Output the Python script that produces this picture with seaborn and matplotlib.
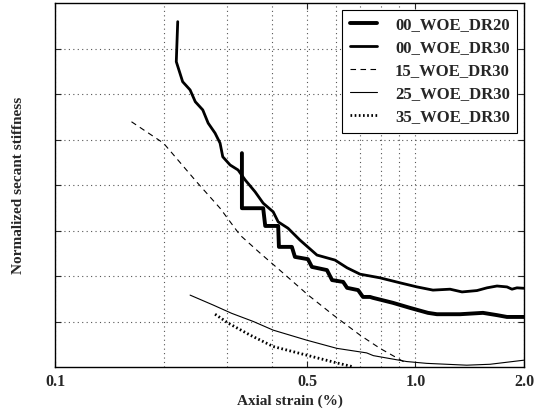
import matplotlib
matplotlib.use("Agg")
import matplotlib.pyplot as plt
import matplotlib.ticker as mticker
import seaborn as sns
import pandas as pd

sns.set_theme(style="ticks")
plt.rcParams["font.family"] = ["Liberation Serif", "DejaVu Serif"]
plt.rcParams["font.weight"] = "bold"

# ---- data ----
dr20_x = [0.330, 0.330, 0.378, 0.383, 0.416, 0.418, 0.454, 0.463, 0.503, 0.516,
          0.568, 0.587, 0.630, 0.646, 0.693, 0.715, 0.748, 0.762, 0.866, 0.965,
          1.083, 1.147, 1.329, 1.539, 1.683, 1.794, 2.0]
dr20_y = [4.70, 3.49, 3.49, 3.10, 3.10, 2.64, 2.64, 2.42, 2.37, 2.20,
          2.13, 1.91, 1.87, 1.74, 1.69, 1.54, 1.54, 1.52, 1.41, 1.30,
          1.19, 1.16, 1.16, 1.19, 1.14, 1.10, 1.10]

dr30_x = [0.219, 0.217, 0.226, 0.237, 0.245, 0.257, 0.266, 0.278, 0.287, 0.292,
          0.306, 0.322, 0.337, 0.359, 0.378, 0.403, 0.416, 0.443, 0.478, 0.533,
          0.598, 0.646, 0.702, 0.748, 0.797, 0.906, 1.010, 1.118, 1.247, 1.346,
          1.481, 1.579, 1.683, 1.794, 1.852, 1.912, 2.0]
dr30_y = [7.59, 6.71, 6.27, 6.09, 5.83, 5.65, 5.36, 5.14, 4.92, 4.62,
          4.44, 4.33, 4.11, 3.85, 3.60, 3.41, 3.19, 3.05, 2.79, 2.46,
          2.35, 2.18, 2.04, 2.00, 1.96, 1.85, 1.76, 1.69, 1.71, 1.65,
          1.68, 1.74, 1.78, 1.76, 1.71, 1.74, 1.73]

w15_x = [0.163, 0.200, 0.247, 0.287, 0.326, 0.371, 0.430, 0.504, 0.592, 0.702, 0.797, 0.945]
w15_y = [5.39, 4.92, 4.07, 3.49, 2.90, 2.50, 2.06, 1.58, 1.14, 0.70, 0.41, 0.08]

w25_x = [0.237, 0.275, 0.309, 0.355, 0.403, 0.499, 0.605, 0.732, 0.764, 0.945,
         1.074, 1.387, 1.610, 2.0]
w25_y = [1.58, 1.36, 1.18, 1.00, 0.81, 0.59, 0.41, 0.31, 0.25, 0.12,
         0.08, 0.04, 0.06, 0.15]

w35_x = [0.278, 0.303, 0.348, 0.403, 0.499, 0.605, 0.667]
w35_y = [1.16, 0.96, 0.70, 0.45, 0.26, 0.09, 0.01]

labels = ["00_WOE_DR20", "00_WOE_DR30", "15_WOE_DR30", "25_WOE_DR30", "35_WOE_DR30"]
xtick_vals = [0.1, 0.5, 1.0, 2.0]
xtick_labels = ["0.1", "0.5", "1.0", "2.0"]

series = [
    (dr20_x, dr20_y, dict(lw=2.8, ls="-")),
    (dr30_x, dr30_y, dict(lw=2.0, ls="-")),
    (w15_x, w15_y, dict(lw=0.8, ls=(0, (5, 4)))),
    (w25_x, w25_y, dict(lw=0.8, ls="-")),
    (w35_x, w35_y, dict(lw=2.0, ls=(0, (0.6, 0.9)))),
]

fig = plt.figure(figsize=(5.38, 4.12), dpi=100)
ax = fig.add_axes([55 / 538, 1 - 367 / 412, (524 - 55) / 538, (367 - 3) / 412])

for (xs, ys, st), lab in zip(series, labels):
    df = pd.DataFrame({"x": xs, "y": ys})
    sns.lineplot(data=df, x="x", y="y", ax=ax, sort=False, estimator=None,
                 color="black", linewidth=st["lw"], linestyle=st["ls"], label=lab)

ax.set_xscale("log")
ax.set_xlim(0.1, 2.0)
ax.set_ylim(0, 8)
ax.set_xticks(xtick_vals)
ax.set_xticklabels(xtick_labels)
ax.xaxis.set_minor_locator(mticker.FixedLocator([0.2, 0.3, 0.4, 0.6, 0.7, 0.8, 0.9]))
ax.xaxis.set_minor_formatter(mticker.NullFormatter())
ax.set_yticks([1, 2, 3, 4, 5, 6, 7])
ax.set_yticklabels([])
ax.grid(True, which="both", axis="x", color="#555555", ls=(0, (1, 3)), lw=0.8)
ax.grid(True, which="major", axis="y", color="#555555", ls=(0, (1, 3)), lw=0.8)
ax.tick_params(which="both", direction="in", top=True, right=True, length=4, width=0.8,
               labelsize=11.5, pad=5)
ax.tick_params(which="minor", length=0)
for lab in ax.get_xticklabels():
    lab.set_fontweight("bold")
for sp in ax.spines.values():
    sp.set_color("black")
    sp.set_linewidth(1.0)

ax.set_xlabel("Axial strain (%)", fontsize=11, fontweight="bold", labelpad=3)
ax.set_ylabel("Normalized secant stiffness", fontsize=11, fontweight="bold")
ax.yaxis.set_label_coords((25 - 55) / 469, 0.5)

leg = ax.legend(loc="upper right", frameon=True, fancybox=False,
                handlelength=1.6, handletextpad=1.1, borderaxespad=0.4,
                labelspacing=0.42, borderpad=0.45,
                prop={"weight": "bold", "size": 12})
leg.get_frame().set_edgecolor("black")
leg.get_frame().set_linewidth(0.8)
leg.get_frame().set_alpha(1)

fig.savefig("out.png", dpi=100)
